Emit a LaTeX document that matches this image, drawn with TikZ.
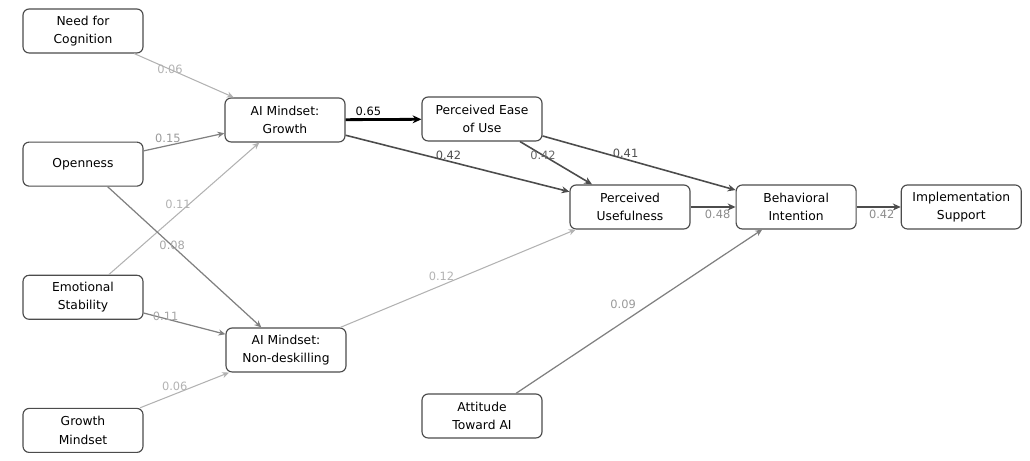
\documentclass[tikz,border=0pt]{standalone}
\usepackage{fontspec}
\setmainfont{DejaVu Sans}
\usepackage{tikz}
\usetikzlibrary{arrows.meta, positioning}
\tikzset{
    construct/.style={
        rectangle,
        rounded corners=3.5pt,
        draw=black!70,
        line width=0.65pt,
        minimum width=2.4cm,
        minimum height=0.88cm,
        fill=white,
        align=center,
        font=\fontsize{7}{10.5}\selectfont
    },
    strongpath/.style={
        draw=black,
        line width=1.6pt,
        -{Stealth[length=5pt,width=4.5pt]}
    },
    midpath/.style={
        draw=black!70,
        line width=0.9pt,
        -{Stealth[length=4.5pt,width=4pt]}
    },
    lightpath/.style={
        draw=black!50,
        line width=0.7pt,
        -{Stealth[length=4pt,width=3.5pt]}
    },
    faintpath/.style={
        draw=black!30,
        line width=0.6pt,
        -{Stealth[length=4pt,width=3.5pt]}
    },
    coef/.style={
        font=\fontsize{6.5}{7}\selectfont,
        inner sep=1.5pt
    }
}

\begin{document}
\begin{tikzpicture}

\useasboundingbox (0,0) rectangle (20.6,9.22);

% Personality and predictors
\node[construct] (nfc) at (1.66,8.60) {Need for\\Cognition};
\node[construct, below=1.76cm of nfc] (open) {Openness};
\node[construct, below=1.76cm of open] (emostab) {Emotional\\Stability};
\node[construct, below=1.76cm of emostab] (gmind) {Growth\\Mindset};

% AI mindsets
\node[construct] (aigrowth) at (5.70,6.82) {AI Mindset:\\Growth};
\node[construct] (aindesk) at (5.72,2.22) {AI Mindset:\\Non-deskilling};

% TAM constructs
\node[construct] (peou) at (9.64,6.84) {Perceived Ease\\of Use};
\node[construct] (pu) at (12.60,5.08) {Perceived\\Usefulness};
\node[construct, right=0.9cm of pu] (bi) {Behavioral\\Intention};
\node[construct, right=0.88cm of bi] (impl) {Implementation\\Support};
\node[construct] (att) at (9.64,0.90) {Attitude\\Toward AI};

% Paths into AI mindsets
\draw[faintpath] (nfc) -- node[coef, pos=.36, text=black!30] {0.06} (aigrowth);
\draw[lightpath] (open) -- node[coef, pos=.3, above, text=black!40] {0.15} (aigrowth);
\draw[faintpath] (emostab) -- node[coef, pos=.46, above=1pt, text=black!30] {0.11} (aigrowth);
\draw[lightpath] (open) -- node[coef, pos=.42, text=black!35] {0.08} (aindesk);
\draw[lightpath] (emostab) -- node[coef, pos=.27, above=-3pt, text=black!35] {0.11} (aindesk);
\draw[faintpath] (gmind) -- node[coef, pos=.39, above, text=black!30] {0.06} (aindesk);

% Paths into TAM
\draw[strongpath] (aigrowth) -- node[coef, pos=.3, above] {0.65} (peou);
\draw[midpath] (aigrowth) -- node[coef, pos=.46, above=-1pt, text=black!70] {0.42} (pu);
\draw[midpath] (peou) -- node[coef, pos=.32, text=black!60] {0.42} (pu);
\draw[midpath] (peou) -- node[coef, pos=.43, above=-1pt, text=black!70] {0.41} (bi);
\draw[faintpath] (aindesk) -- node[coef, pos=.43, above=1pt, text=black!30] {0.12} (pu);
\draw[midpath] (pu) -- node[coef, pos=.6, below, text=black!45] {0.48} (bi);
\draw[lightpath] (att) -- node[coef, pos=.5, above left, text=black!40] {0.09} (bi);
\draw[midpath] (bi) -- node[coef, pos=.57, below, text=black!45] {0.42} (impl);

\end{tikzpicture}
\end{document}
